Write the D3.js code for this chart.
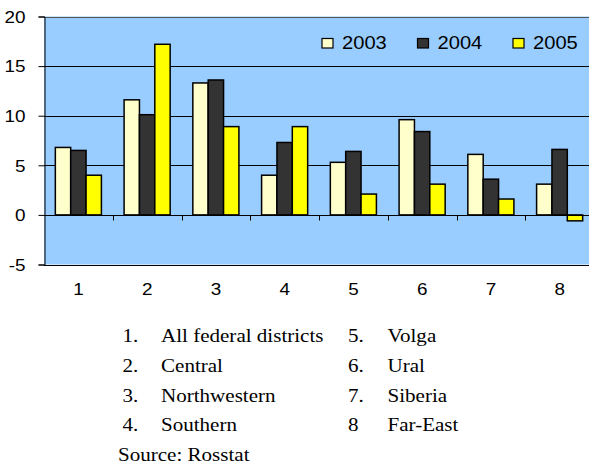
<!DOCTYPE html>
<html>
<head>
<meta charset="utf-8">
<script src="https://cdn.jsdelivr.net/npm/d3@7/dist/d3.min.js"></script>
<style>
  html, body { margin: 0; padding: 0; background: #ffffff; }
  svg { display: block; }
</style>
</head>
<body>
<svg id="chart" width="589" height="467"></svg>
<script>
// Regional growth by federal district, 2003-2005
const categories = ["1", "2", "3", "4", "5", "6", "7", "8"];
const seriesNames = ["2003", "2004", "2005"];
const values2003 = [6.8, 11.6, 13.3, 4.0, 5.3, 9.6, 6.1, 3.1];
const values2004 = [6.5, 10.1, 13.6, 7.3, 6.4, 8.4, 3.6, 6.6];
const values2005 = [4.0, 17.2, 8.9, 8.9, 2.1, 3.1, 1.6, -0.6];
const yTicks = [-5, 0, 5, 10, 15, 20];
const districtNumbers = ["1.", "2.", "3.", "4.", "5.", "6.", "7.", "8"];
const districtNames = ["All federal districts", "Central", "Northwestern", "Southern",
                       "Volga", "Ural", "Siberia", "Far-East"];
const sourceNote = "Source: Rosstat";

const seriesValues = [values2003, values2004, values2005];
const seriesColors = ["#FFFFCC", "#333333", "#FFFF00"];

const svg = d3.select("#chart");
const plot = { left: 44, right: 594, top: 16.5, bottom: 264.5 };

const y = d3.scaleLinear().domain([-5, 20]).range([plot.bottom, plot.top]);
const x0 = d3.scaleBand().domain(categories).range([plot.left, plot.right])
  .paddingInner(0.33).paddingOuter(0.165);
const x1 = d3.scaleBand().domain(seriesNames).range([0, x0.bandwidth()]);

// plot background
svg.append("rect")
  .attr("x", plot.left).attr("y", plot.top)
  .attr("width", plot.right - plot.left).attr("height", plot.bottom - plot.top)
  .attr("fill", "#99CCFF");

// horizontal gridlines
svg.append("g").selectAll("line")
  .data(yTicks.filter(t => t > 0 && t < 20))
  .join("line")
  .attr("x1", plot.left).attr("x2", plot.right)
  .attr("y1", d => Math.round(y(d)) + 0.5).attr("y2", d => Math.round(y(d)) + 0.5)
  .attr("stroke", "#000").attr("stroke-width", 1);

// top and bottom border of plot
svg.append("line")
  .attr("x1", plot.left).attr("x2", plot.right)
  .attr("y1", Math.round(y(20)) + 0.5).attr("y2", Math.round(y(20)) + 0.5)
  .attr("stroke", "#555").attr("stroke-width", 1);
svg.append("line")
  .attr("x1", plot.left).attr("x2", plot.right)
  .attr("y1", Math.round(y(-5)) + 0.5).attr("y2", Math.round(y(-5)) + 0.5)
  .attr("stroke", "#000").attr("stroke-width", 1.2);

// bars
const groups = svg.append("g").selectAll("g")
  .data(categories)
  .join("g")
  .attr("transform", d => `translate(${x0(d)},0)`);

groups.selectAll("rect")
  .data((d, i) => seriesNames.map((s, k) => ({ s, v: seriesValues[k][i], c: seriesColors[k] })))
  .join("rect")
  .attr("x", d => x1(d.s))
  .attr("width", x1.bandwidth())
  .attr("y", d => y(Math.max(0, d.v)))
  .attr("height", d => Math.abs(y(d.v) - y(0)))
  .attr("fill", d => d.c)
  .attr("stroke", "#000")
  .attr("stroke-width", 1.5);

// y axis
const yAxis = d3.axisLeft(y).tickValues(yTicks).tickSize(6).tickPadding(9)
  .tickFormat(d => String(d));
const gy = svg.append("g").attr("transform", `translate(${plot.left + 0.5},0)`).call(yAxis);
gy.select(".domain").attr("stroke", "#000");
gy.selectAll(".tick line").attr("stroke", "#000");
gy.selectAll(".tick text")
  .attr("font-family", "'Liberation Sans', Arial, sans-serif")
  .attr("font-size", 16).attr("fill", "#000")
  .attr("transform", "scale(1.18,1)")
  .attr("x", -19 / 1.18)
  .attr("dy", "0.36em");

// x axis on the zero line, ticks between categories
const zeroY = Math.round(y(0)) + 0.5;
svg.append("line")
  .attr("x1", plot.left).attr("x2", plot.right)
  .attr("y1", zeroY).attr("y2", zeroY)
  .attr("stroke", "#000").attr("stroke-width", 1);
svg.append("g").selectAll("line")
  .data(categories.slice(1))
  .join("line")
  .attr("x1", d => Math.round(x0(d) - x0.step() * x0.paddingOuter()) + 0.5)
  .attr("x2", d => Math.round(x0(d) - x0.step() * x0.paddingOuter()) + 0.5)
  .attr("y1", zeroY).attr("y2", zeroY + 5)
  .attr("stroke", "#000");

// category labels below the plot
svg.append("g").selectAll("text")
  .data(categories)
  .join("text")
  .attr("transform", d => `translate(${x0(d) + x0.bandwidth() / 2},295) scale(1.18,1)`)
  .attr("text-anchor", "middle")
  .attr("font-family", "'Liberation Sans', Arial, sans-serif")
  .attr("font-size", 16)
  .text(d => d);

// legend
const legendX = [322, 417.5, 513];
const legend = svg.append("g").selectAll("g")
  .data(seriesNames)
  .join("g")
  .attr("transform", (d, i) => `translate(${legendX[i]},38.5)`);
legend.append("rect")
  .attr("width", 11).attr("height", 9.5)
  .attr("fill", (d, i) => seriesColors[i])
  .attr("stroke", "#000").attr("stroke-width", 1.2);
legend.append("text")
  .attr("transform", "translate(20,10.5) scale(1.06,1)")
  .attr("font-family", "'Liberation Sans', Arial, sans-serif")
  .attr("font-size", 19)
  .text(d => d);

// district key below the chart
const key = svg.append("g")
  .attr("font-family", "'Liberation Serif', 'Times New Roman', serif")
  .attr("font-size", 18).attr("fill", "#000");
const rowY = [342, 372, 401.5, 431];
districtNames.forEach((name, i) => {
  const col = i < 4 ? 0 : 1;
  const row = i % 4;
  const numX = col === 0 ? 122.5 : 348;
  const nameX = col === 0 ? 161 : 387.5;
  key.append("text")
    .attr("transform", `translate(${numX},${rowY[row]}) scale(1.17,1)`)
    .text(districtNumbers[i]);
  key.append("text")
    .attr("transform", `translate(${nameX},${rowY[row]}) scale(1.17,1)`)
    .text(name);
});
key.append("text")
  .attr("transform", "translate(118,461) scale(1.17,1)")
  .text(sourceNote);
</script>
</body>
</html>
